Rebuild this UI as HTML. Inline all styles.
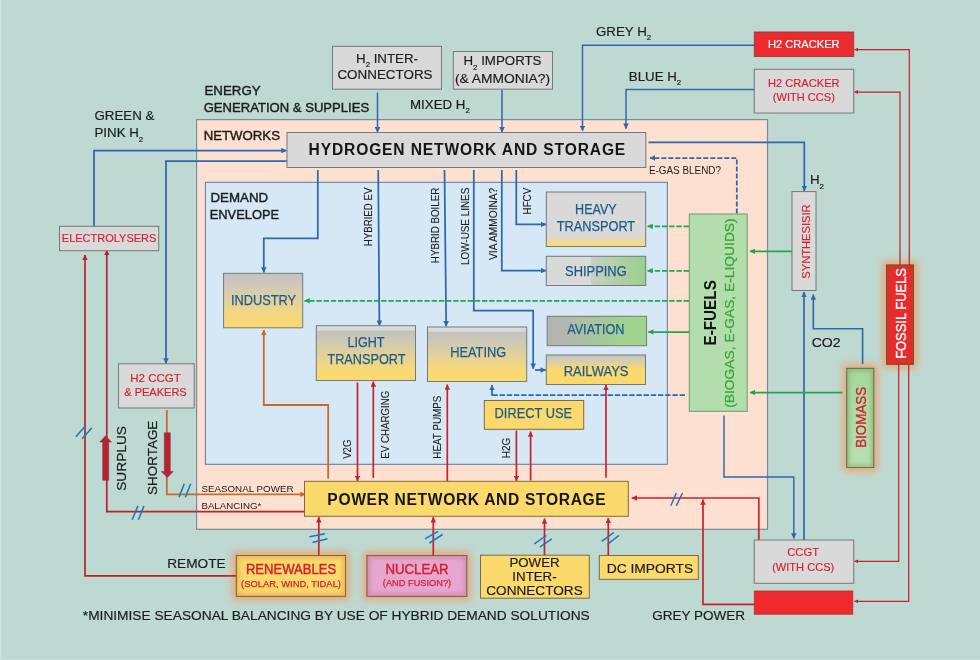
<!DOCTYPE html>
<html lang="en"><head><meta charset="utf-8"><title>Energy system diagram</title>
<style>html,body{margin:0;padding:0;background:#bed8d2;}body{width:980px;height:660px;overflow:hidden;}svg{display:block;opacity:0.999;-webkit-font-smoothing:antialiased;font-family:"Liberation Sans",Arial,Helvetica,sans-serif;}</style>
</head><body>
<svg width="980" height="660" viewBox="0 0 980 660">
<defs>
<marker id="aB" viewBox="0 0 6 6" refX="5.6" refY="3" markerWidth="6" markerHeight="5.6" markerUnits="userSpaceOnUse" orient="auto"><path d="M0,0 L6,3 L0,6 z" fill="#2d68ae"/></marker>
<marker id="aR" viewBox="0 0 6 6" refX="5.6" refY="3" markerWidth="6" markerHeight="5.6" markerUnits="userSpaceOnUse" orient="auto"><path d="M0,0 L6,3 L0,6 z" fill="#c8222b"/></marker>
<marker id="aD" viewBox="0 0 6 6" refX="5.6" refY="3" markerWidth="6" markerHeight="5.6" markerUnits="userSpaceOnUse" orient="auto"><path d="M0,0 L6,3 L0,6 z" fill="#bb222b"/></marker>
<marker id="aO" viewBox="0 0 6 6" refX="5.6" refY="3" markerWidth="6" markerHeight="5.6" markerUnits="userSpaceOnUse" orient="auto"><path d="M0,0 L6,3 L0,6 z" fill="#c96a2b"/></marker>
<marker id="aG" viewBox="0 0 6 6" refX="5.6" refY="3" markerWidth="6" markerHeight="5.6" markerUnits="userSpaceOnUse" orient="auto"><path d="M0,0 L6,3 L0,6 z" fill="#22a650"/></marker>
<marker id="aRs" viewBox="0 0 6 6" refX="5.6" refY="3" markerWidth="4.2" markerHeight="4" markerUnits="userSpaceOnUse" orient="auto"><path d="M0,0 L6,3 L0,6 z" fill="#c8222b"/></marker>
<filter id="glow" x="-50%" y="-50%" width="200%" height="200%"><feGaussianBlur stdDeviation="3.5"/></filter>
<linearGradient id="gInd" x1="0" y1="0" x2="0" y2="1"><stop offset="0" stop-color="#c4c2c0"/><stop offset="0.18" stop-color="#cdc8bc"/><stop offset="0.75" stop-color="#f3d783"/><stop offset="1" stop-color="#fbd96c"/></linearGradient>
<linearGradient id="gLT" x1="0" y1="0" x2="0" y2="1"><stop offset="0" stop-color="#dedede"/><stop offset="0.085" stop-color="#d6d6d4"/><stop offset="0.1" stop-color="#c3c2bf"/><stop offset="0.3" stop-color="#d0cab4"/><stop offset="0.8" stop-color="#f8d977"/><stop offset="1" stop-color="#fbd96c"/></linearGradient>
<linearGradient id="gHT" x1="0" y1="0" x2="0" y2="1"><stop offset="0" stop-color="#d9d9d9"/><stop offset="0.8" stop-color="#d9d9d9"/><stop offset="0.9" stop-color="#ecd9a0"/><stop offset="1" stop-color="#fbd96c"/></linearGradient>
<linearGradient id="gSh" x1="0" y1="0" x2="1" y2="0"><stop offset="0" stop-color="#d9d9d9"/><stop offset="0.45" stop-color="#d9d9d9"/><stop offset="0.45" stop-color="#c9cdc6"/><stop offset="1" stop-color="#9ad188"/></linearGradient>
<linearGradient id="gAv" x1="0" y1="0" x2="1" y2="0"><stop offset="0" stop-color="#b3b3b0"/><stop offset="0.15" stop-color="#b3b5b0"/><stop offset="0.8" stop-color="#a0d38f"/><stop offset="1" stop-color="#9ed48c"/></linearGradient>
<linearGradient id="gRw" x1="0" y1="0" x2="0" y2="1"><stop offset="0" stop-color="#c6c4bf"/><stop offset="0.12" stop-color="#cdc9bb"/><stop offset="0.5" stop-color="#fbd96c"/><stop offset="1" stop-color="#fbd96c"/></linearGradient>
<linearGradient id="gBio" x1="0" y1="0" x2="0" y2="1"><stop offset="0" stop-color="#a5d79c"/><stop offset="1" stop-color="#b9e0b3"/></linearGradient>
<filter id="glow2" x="-50%" y="-50%" width="200%" height="200%"><feGaussianBlur stdDeviation="2"/></filter>
<clipPath id="cg0"><rect x="886.5" y="265" width="27.0" height="99.3"/></clipPath>
<clipPath id="cg1"><rect x="846.8" y="368.3" width="27.0" height="99.2"/></clipPath>
<clipPath id="cg2"><rect x="236.3" y="555.5" width="109.2" height="40.8"/></clipPath>
<clipPath id="cg3"><rect x="367" y="555.5" width="99.8" height="40.8"/></clipPath>
</defs>
<rect x="0" y="0" width="980" height="660" fill="#bed8d2"/>
<rect x="0" y="0" width="1.2" height="660" fill="#d4e5e0"/>
<rect x="0" y="659" width="980" height="1" fill="#c7ddd8"/>
<rect x="196.6" y="119.6" width="570.9" height="409.7" fill="#fde0d0" stroke="#778c9c" stroke-width="1.2"/>
<rect x="205.4" y="182.3" width="461.9" height="282.0" fill="#d6e8f5" stroke="#587aa3" stroke-width="1"/>
<rect x="882.5" y="261" width="35.0" height="107.30000000000001" rx="4" fill="#e8a977" filter="url(#glow)"/>
<rect x="842.8" y="364.3" width="35.0" height="107.19999999999999" rx="4" fill="#e8a977" filter="url(#glow)"/>
<rect x="232.3" y="551.5" width="117.19999999999999" height="48.799999999999955" rx="4" fill="#e8a977" filter="url(#glow)"/>
<rect x="363" y="551.5" width="107.80000000000001" height="48.799999999999955" rx="4" fill="#e8a977" filter="url(#glow)"/>
<path d="M94,228 L94,150.5 L286.5,150.5" fill="none" stroke="#2d68ae" stroke-width="1.75" marker-end="url(#aB)"/>
<path d="M287,161 L166,161 L166,363.5" fill="none" stroke="#2d68ae" stroke-width="1.75" marker-end="url(#aB)"/>
<path d="M377.5,92.5 L377.5,132.3" fill="none" stroke="#2d68ae" stroke-width="1.5" marker-end="url(#aB)"/>
<path d="M502,90 L502,132.3" fill="none" stroke="#2d68ae" stroke-width="1.5" marker-end="url(#aB)"/>
<path d="M755,45.3 L582.5,45.3 L582.5,131" fill="none" stroke="#2d68ae" stroke-width="1.45" marker-end="url(#aB)"/>
<path d="M755,89.5 L626,89.5 L626,128.8" fill="none" stroke="#2d68ae" stroke-width="1.45" marker-end="url(#aB)"/>
<path d="M648.5,142.4 L804.3,142.4 L804.3,191" fill="none" stroke="#2d68ae" stroke-width="1.75" marker-end="url(#aB)"/>
<path d="M736.8,213.5 L736.8,158 L650,158" fill="none" stroke="#2d68ae" stroke-width="1.75" marker-end="url(#aB)" stroke-dasharray="5 2"/>
<path d="M317.8,170 L317.8,238.3 L263.8,238.3 L263.8,272.5" fill="none" stroke="#2d68ae" stroke-width="1.75" marker-end="url(#aB)"/>
<path d="M378.2,170 L379.4,325.8" fill="none" stroke="#2d68ae" stroke-width="1.75" marker-end="url(#aB)"/>
<path d="M444.5,170 L446.2,326.3" fill="none" stroke="#2d68ae" stroke-width="1.75" marker-end="url(#aB)"/>
<path d="M473.8,170 L473.8,310.6 L533.2,310.6 L533.2,368.8" fill="none" stroke="#2d68ae" stroke-width="1.75" marker-end="url(#aB)"/>
<path d="M535,370 L545.8,370" fill="none" stroke="#2d68ae" stroke-width="1.75" marker-end="url(#aB)"/>
<path d="M501.8,170 L501.8,270.6 L546,270.6" fill="none" stroke="#2d68ae" stroke-width="1.75" marker-end="url(#aB)"/>
<path d="M516.3,170 L516.3,224.4 L546,224.4" fill="none" stroke="#2d68ae" stroke-width="1.75" marker-end="url(#aB)"/>
<path d="M685,395 L492,395" fill="none" stroke="#2d68ae" stroke-width="1.75" stroke-dasharray="5.4 1.8"/>
<path d="M492,395.7 L492,385" fill="none" stroke="#2d68ae" stroke-width="1.75" marker-end="url(#aB)"/>
<path d="M724,415.5 L724,477 L793.8,477 L793.8,538.5" fill="none" stroke="#2d68ae" stroke-width="1.45" marker-end="url(#aB)"/>
<path d="M804,540 L804,292" fill="none" stroke="#2d68ae" stroke-width="1.7" marker-end="url(#aB)"/>
<path d="M862.6,364 L862.6,328.8 L813.3,328.8 L813.3,294.5" fill="none" stroke="#2d68ae" stroke-width="1.6" marker-end="url(#aB)"/>
<path d="M689,226.3 L647.5,226.3" fill="none" stroke="#22a650" stroke-width="1.7" marker-end="url(#aG)" stroke-dasharray="5.4 1.8"/>
<path d="M689,270.8 L647.5,270.8" fill="none" stroke="#22a650" stroke-width="1.7" marker-end="url(#aG)" stroke-dasharray="5.4 1.8"/>
<path d="M689,300.8 L304.5,300.8" fill="none" stroke="#22a650" stroke-width="1.8" marker-end="url(#aG)" stroke-dasharray="5.4 1.8"/>
<path d="M691,332 L648.2,332" fill="none" stroke="#22a650" stroke-width="1.75" marker-end="url(#aG)"/>
<path d="M792,251.3 L750,251.3" fill="none" stroke="#22a650" stroke-width="1.75" marker-end="url(#aG)"/>
<path d="M842.5,392.5 L750,392.5" fill="none" stroke="#22a650" stroke-width="1.75" marker-end="url(#aG)"/>
<path d="M328.2,478.8 L328.2,405 L263.8,405 L263.8,330" fill="none" stroke="#c96a2b" stroke-width="1.8" marker-end="url(#aO)"/>
<path d="M166.8,410 L166.8,494.3 L305.5,494.3" fill="none" stroke="#c96a2b" stroke-width="1.8" marker-end="url(#aO)"/>
<path d="M357.5,382.5 L357.5,481" fill="none" stroke="#c8222b" stroke-width="1.7" marker-end="url(#aR)"/>
<path d="M373.3,477.8 L373.3,381.5" fill="none" stroke="#c8222b" stroke-width="1.7" marker-end="url(#aR)"/>
<path d="M447.3,484 L447.3,384.5" fill="none" stroke="#c8222b" stroke-width="1.7" marker-end="url(#aR)"/>
<path d="M516.4,430.5 L516.4,481" fill="none" stroke="#c8222b" stroke-width="1.7" marker-end="url(#aR)"/>
<path d="M530.6,480.5 L530.6,431.5" fill="none" stroke="#c8222b" stroke-width="1.7" marker-end="url(#aR)"/>
<path d="M606,477.8 L606,385" fill="none" stroke="#c8222b" stroke-width="1.7" marker-end="url(#aR)"/>
<path d="M306,511.6 L106.8,511.6 L106.8,250" fill="none" stroke="#bb222b" stroke-width="1.7" marker-end="url(#aD)"/>
<path d="M236.5,575.8 L85,575.8 L85,255" fill="none" stroke="#bb222b" stroke-width="1.7" marker-end="url(#aD)"/>
<path d="M318.8,556 L318.8,517.2" fill="none" stroke="#c8222b" stroke-width="1.7" marker-end="url(#aR)"/>
<path d="M433.3,556 L433.3,517.2" fill="none" stroke="#c8222b" stroke-width="1.7" marker-end="url(#aR)"/>
<path d="M544.5,556 L544.5,518.5" fill="none" stroke="#c8222b" stroke-width="1.7" marker-end="url(#aR)"/>
<path d="M608.3,556 L608.3,518" fill="none" stroke="#c8222b" stroke-width="1.7" marker-end="url(#aR)"/>
<path d="M758.8,541 L758.8,498 L631.8,498" fill="none" stroke="#c8222b" stroke-width="1.7" marker-end="url(#aR)"/>
<path d="M755,604.3 L703,604.3 L703,499.5" fill="none" stroke="#c8222b" stroke-width="1.7" marker-end="url(#aR)"/>
<path d="M900,266 L900,92 L854.5,92" fill="none" stroke="#c8222b" stroke-width="1.25" marker-end="url(#aRs)"/>
<path d="M909.3,266 L909.3,49.6 L854.5,49.6" fill="none" stroke="#c8222b" stroke-width="1.25" marker-end="url(#aRs)"/>
<path d="M898.7,364 L898.7,561.3 L854.5,561.3" fill="none" stroke="#c8222b" stroke-width="1.25" marker-end="url(#aRs)"/>
<path d="M908.7,364 L908.7,601.3 L854.5,601.3" fill="none" stroke="#c8222b" stroke-width="1.25" marker-end="url(#aRs)"/>
<path d="M102.7,480.3 L102.7,442 L99.8,442 L105.6,435.8 L111.4,442 L108.7,442 L108.7,480.3 z" fill="#bb222b" stroke="#5a3560" stroke-width="0.5"/>
<path d="M164.3,432.8 L170.3,432.8 L170.3,471.5 L173.3,471.5 L167.3,477.6 L161.3,471.5 L164.3,471.5 z" fill="#bb222b" stroke="#5a3560" stroke-width="0.5"/>
<path d="M179,497.3 L184.3,483.8 M185.3,497.3 L190.7,483.8" stroke="#1878bc" stroke-width="1.5" fill="none"/>
<path d="M132.2,519.8 L137.9,505.9 M138.4,519.8 L144,505.9" stroke="#1878bc" stroke-width="1.5" fill="none"/>
<path d="M75.8,436.8 L85.8,425.5 M82,438.8 L91.8,428" stroke="#1878bc" stroke-width="1.5" fill="none"/>
<path d="M309.5,536.8 L325,533.8 M312.5,542.5 L327.5,538.8" stroke="#1878bc" stroke-width="1.5" fill="none"/>
<path d="M425,538.8 L438,531.3 M429.5,543 L442.5,534.5" stroke="#1878bc" stroke-width="1.5" fill="none"/>
<path d="M534.3,543.8 L546.3,535.5 M540,547 L551.8,538.8" stroke="#1878bc" stroke-width="1.5" fill="none"/>
<path d="M601.8,541.3 L613.8,532.5 M607.5,544.3 L618.8,535.5" stroke="#1878bc" stroke-width="1.5" fill="none"/>
<path d="M670.8,505.8 L676.3,493 M676.3,505.8 L682.5,493" stroke="#1878bc" stroke-width="1.5" fill="none"/>
<rect x="287" y="132.5" width="358.8" height="35.0" fill="#d9d9d9" stroke="#737a78" stroke-width="1"/>
<rect x="304.5" y="481.3" width="323.8" height="35.0" fill="#fbd96c" stroke="#7a6c45" stroke-width="1"/>
<rect x="332.5" y="46.3" width="109.0" height="42.9" fill="#d9d9d9" stroke="#737a78" stroke-width="1"/>
<rect x="453.3" y="51.5" width="99.2" height="37.7" fill="#d9d9d9" stroke="#737a78" stroke-width="1"/>
<rect x="59.5" y="226.3" width="99.2" height="24.4" fill="#d9d9d9" stroke="#737a78" stroke-width="1"/>
<rect x="118.5" y="363.8" width="75.7" height="44.2" fill="#d9d9d9" stroke="#737a78" stroke-width="1"/>
<rect x="754.3" y="32" width="99.4" height="24.4" fill="#ed2a2e" stroke="#8a3a3a" stroke-width="0.9"/>
<rect x="754.3" y="69.3" width="99.4" height="43.7" fill="#d9d9d9" stroke="#737a78" stroke-width="1"/>
<rect x="792" y="191.6" width="24" height="98.9" fill="#d9d9d9" stroke="#737a78" stroke-width="1"/>
<rect x="754.3" y="540" width="99.4" height="43.3" fill="#d9d9d9" stroke="#737a78" stroke-width="1"/>
<rect x="754.3" y="591" width="98.5" height="23.2" fill="#ed2a2e" stroke="#b8282c" stroke-width="0.8"/>
<rect x="886.5" y="265" width="27.0" height="99.3" fill="#ec2a2e" stroke="#8a3a3a" stroke-width="1"/>
<rect x="846.8" y="368.3" width="27.0" height="99.2" fill="url(#gBio)" stroke="#6f7f6a" stroke-width="1"/>
<rect x="689.3" y="214" width="57.9" height="197.3" fill="#b4ddad" stroke="#6f9a6f" stroke-width="1"/>
<rect x="223.6" y="273.3" width="79.1" height="54.5" fill="url(#gInd)" stroke="#737a78" stroke-width="1"/>
<rect x="316.3" y="325.7" width="99.2" height="54.8" fill="url(#gLT)" stroke="#737a78" stroke-width="1"/>
<rect x="427.5" y="327" width="99.2" height="54.5" fill="url(#gLT)" stroke="#737a78" stroke-width="1"/>
<rect x="546.3" y="192" width="99.4" height="54.5" fill="url(#gHT)" stroke="#737a78" stroke-width="1"/>
<rect x="546.3" y="256.3" width="99.4" height="29.2" fill="url(#gSh)" stroke="#737a78" stroke-width="1"/>
<rect x="547.2" y="316.3" width="99.4" height="29.4" fill="url(#gAv)" stroke="#737a78" stroke-width="1"/>
<rect x="546.3" y="355" width="99.2" height="29.5" fill="url(#gRw)" stroke="#737a78" stroke-width="1"/>
<rect x="484.3" y="400.5" width="99.4" height="28.8" fill="#fbd96c" stroke="#7a6c45" stroke-width="1"/>
<rect x="236.3" y="555.5" width="109.2" height="40.8" fill="#fbd96c" stroke="#7a6c45" stroke-width="1"/>
<rect x="367" y="555.5" width="99.8" height="40.8" fill="#e6a6cf" stroke="#7a6c6c" stroke-width="1"/>
<rect x="480.5" y="555.2" width="108.8" height="43.0" fill="#fbd96c" stroke="#7a6c45" stroke-width="1"/>
<rect x="599.3" y="555.5" width="99.0" height="23.8" fill="#fbd96c" stroke="#7a6c45" stroke-width="1"/>
<g clip-path="url(#cg0)"><rect x="886.5" y="265" width="27.0" height="99.3" fill="none" stroke="#b8401f" stroke-width="5" filter="url(#glow2)" opacity="0.75"/></g>
<rect x="886.5" y="265" width="27.0" height="99.3" fill="none" stroke="#6a6040" stroke-width="0.6"/>
<g clip-path="url(#cg1)"><rect x="846.8" y="368.3" width="27.0" height="99.2" fill="none" stroke="#7fae6a" stroke-width="5" filter="url(#glow2)" opacity="0.75"/></g>
<rect x="846.8" y="368.3" width="27.0" height="99.2" fill="none" stroke="#6a6040" stroke-width="0.6"/>
<g clip-path="url(#cg2)"><rect x="236.3" y="555.5" width="109.2" height="40.8" fill="none" stroke="#e0a850" stroke-width="5" filter="url(#glow2)" opacity="0.75"/></g>
<rect x="236.3" y="555.5" width="109.2" height="40.8" fill="none" stroke="#6a6040" stroke-width="0.6"/>
<g clip-path="url(#cg3)"><rect x="367" y="555.5" width="99.8" height="40.8" fill="none" stroke="#c8809a" stroke-width="5" filter="url(#glow2)" opacity="0.75"/></g>
<rect x="367" y="555.5" width="99.8" height="40.8" fill="none" stroke="#6a6040" stroke-width="0.6"/>
<text x="204.5" y="95" font-size="13.3" fill="#1c1c1c" stroke="#1c1c1c" stroke-width="0.42">ENERGY</text>
<text x="203.7" y="112" font-size="13.3" fill="#1c1c1c" textLength="165.46" lengthAdjust="spacingAndGlyphs" stroke="#1c1c1c" stroke-width="0.42">GENERATION &amp; SUPPLIES</text>
<text x="203.7" y="140" font-size="13.3" fill="#1c1c1c" textLength="76.26" lengthAdjust="spacingAndGlyphs" stroke="#1c1c1c" stroke-width="0.42">NETWORKS</text>
<text x="210.5" y="202" font-size="13.3" fill="#1c1c1c" stroke="#1c1c1c" stroke-width="0.42">DEMAND</text>
<text x="209.7" y="218.8" font-size="13.3" fill="#1c1c1c" textLength="69.46" lengthAdjust="spacingAndGlyphs" stroke="#1c1c1c" stroke-width="0.42">ENVELOPE</text>
<text x="94.5" y="120" font-size="13.3" fill="#1c1c1c" stroke="#1c1c1c" stroke-width="0.18">GREEN &amp;</text>
<text x="94.5" y="136.9" font-size="13.3" fill="#1c1c1c" stroke="#1c1c1c" stroke-width="0.18">PINK H<tspan font-size="7.8" dy="4.6">2</tspan></text>
<text x="387" y="62.5" font-size="13.3" fill="#1c1c1c" text-anchor="middle" stroke="#1c1c1c" stroke-width="0.18">H<tspan font-size="7.8" dy="4.6">2</tspan><tspan dy="-4.6"> INTER-</tspan></text>
<text x="385" y="79.3" font-size="13.3" fill="#1c1c1c" text-anchor="middle" textLength="95.17" lengthAdjust="spacingAndGlyphs" stroke="#1c1c1c" stroke-width="0.18">CONNECTORS</text>
<text x="502.5" y="65" font-size="13.3" fill="#1c1c1c" text-anchor="middle" stroke="#1c1c1c" stroke-width="0.18">H<tspan font-size="7.8" dy="4.6">2</tspan><tspan dy="-4.6"> IMPORTS</tspan></text>
<text x="502.5" y="82.5" font-size="13.3" fill="#1c1c1c" text-anchor="middle" textLength="95.17" lengthAdjust="spacingAndGlyphs" stroke="#1c1c1c" stroke-width="0.18">(&amp; AMMONIA?)</text>
<text x="410" y="108.8" font-size="13.3" fill="#1c1c1c" stroke="#1c1c1c" stroke-width="0.18">MIXED H<tspan font-size="7.8" dy="4.6">2</tspan></text>
<text x="596" y="35.6" font-size="13.3" fill="#1c1c1c" stroke="#1c1c1c" stroke-width="0.18">GREY H<tspan font-size="7.8" dy="4.6">2</tspan></text>
<text x="628.8" y="80.5" font-size="13.3" fill="#1c1c1c" stroke="#1c1c1c" stroke-width="0.18">BLUE H<tspan font-size="7.8" dy="4.6">2</tspan></text>
<text x="308.56" y="155" font-size="15.6" fill="#151515" textLength="316.72" lengthAdjust="spacing" font-weight="bold">HYDROGEN NETWORK AND STORAGE</text>
<text x="327.36" y="505" font-size="15.6" fill="#151515" textLength="278.42" lengthAdjust="spacing" font-weight="bold">POWER NETWORK AND STORAGE</text>
<text x="648.9" y="173.8" font-size="10" fill="#1c1c1c" textLength="72.1" lengthAdjust="spacingAndGlyphs">E-GAS BLEND?</text>
<text x="810" y="184.4" font-size="13.3" fill="#1c1c1c" stroke="#1c1c1c" stroke-width="0.18">H<tspan font-size="7.8" dy="4.6">2</tspan></text>
<text x="811.7" y="347" font-size="13.3" fill="#1c1c1c" textLength="28.96" lengthAdjust="spacingAndGlyphs" stroke="#1c1c1c" stroke-width="0.18">CO2</text>
<text x="201.41" y="491.5" font-size="9.8" fill="#1c1c1c" textLength="92.08" lengthAdjust="spacingAndGlyphs">SEASONAL POWER</text>
<text x="201.41" y="508.9" font-size="9.8" fill="#1c1c1c" textLength="59.88" lengthAdjust="spacingAndGlyphs">BALANCING*</text>
<text x="167.2" y="568.3" font-size="13.3" fill="#1c1c1c" textLength="58.46" lengthAdjust="spacingAndGlyphs" stroke="#1c1c1c" stroke-width="0.18">REMOTE</text>
<text x="82.8" y="619.6" font-size="13.3" fill="#1c1c1c" textLength="506.96" lengthAdjust="spacingAndGlyphs" stroke="#1c1c1c" stroke-width="0.18">*MINIMISE SEASONAL BALANCING BY USE OF HYBRID DEMAND SOLUTIONS</text>
<text x="652.2" y="619.7" font-size="13.3" fill="#1c1c1c" textLength="92.96" lengthAdjust="spacingAndGlyphs" stroke="#1c1c1c" stroke-width="0.18">GREY POWER</text>
<text x="534.5" y="567" font-size="13.3" fill="#1c1c1c" text-anchor="middle" stroke="#1c1c1c" stroke-width="0.18">POWER</text>
<text x="534.5" y="581.2" font-size="13.3" fill="#1c1c1c" text-anchor="middle" stroke="#1c1c1c" stroke-width="0.18">INTER-</text>
<text x="534.5" y="595.1" font-size="13.3" fill="#1c1c1c" text-anchor="middle" textLength="96.47" lengthAdjust="spacingAndGlyphs" stroke="#1c1c1c" stroke-width="0.18">CONNECTORS</text>
<text x="606.7" y="572.7" font-size="13.3" fill="#1c1c1c" textLength="86.46" lengthAdjust="spacingAndGlyphs" stroke="#1c1c1c" stroke-width="0.18">DC IMPORTS</text>
<text x="61.81" y="242" font-size="11.5" fill="#d4202f" textLength="94.56" lengthAdjust="spacingAndGlyphs" stroke="#d4202f" stroke-width="0.15">ELECTROLYSERS</text>
<text x="155.5" y="382" font-size="11.5" fill="#d4202f" text-anchor="middle" stroke="#d4202f" stroke-width="0.15">H2 CCGT</text>
<text x="155.5" y="396.3" font-size="11.5" fill="#d4202f" text-anchor="middle" textLength="62.38" lengthAdjust="spacingAndGlyphs" stroke="#d4202f" stroke-width="0.15">&amp; PEAKERS</text>
<text x="803.8" y="47.6" font-size="11.5" fill="#ffffff" text-anchor="middle" textLength="71.58" lengthAdjust="spacingAndGlyphs" stroke="#ffffff" stroke-width="0.2">H2 CRACKER</text>
<text x="803.8" y="87" font-size="11.5" fill="#d4202f" text-anchor="middle" textLength="71.58" lengthAdjust="spacingAndGlyphs" stroke="#d4202f" stroke-width="0.15">H2 CRACKER</text>
<text x="803.8" y="101.3" font-size="11.5" fill="#d4202f" text-anchor="middle" textLength="62.08" lengthAdjust="spacingAndGlyphs" stroke="#d4202f" stroke-width="0.15">(WITH CCS)</text>
<text x="803.2" y="556.3" font-size="11.5" fill="#d4202f" text-anchor="middle" textLength="31.88" lengthAdjust="spacingAndGlyphs" stroke="#d4202f" stroke-width="0.15">CCGT</text>
<text x="803.2" y="570.5" font-size="11.5" fill="#d4202f" text-anchor="middle" textLength="62.08" lengthAdjust="spacingAndGlyphs" stroke="#d4202f" stroke-width="0.15">(WITH CCS)</text>
<text x="291" y="574.2" font-size="14" fill="#d4202f" text-anchor="middle" textLength="90.2" lengthAdjust="spacingAndGlyphs" stroke="#d4202f" stroke-width="0.45">RENEWABLES</text>
<text x="291" y="586.8" font-size="9.8" fill="#d4202f" text-anchor="middle" textLength="99.99" lengthAdjust="spacingAndGlyphs" stroke="#d4202f" stroke-width="0.25">(SOLAR, WIND, TIDAL)</text>
<text x="417" y="574.2" font-size="14" fill="#d4202f" text-anchor="middle" textLength="63.2" lengthAdjust="spacingAndGlyphs" stroke="#d4202f" stroke-width="0.45">NUCLEAR</text>
<text x="417" y="586.3" font-size="9.8" fill="#d4202f" text-anchor="middle" textLength="68.29" lengthAdjust="spacingAndGlyphs" stroke="#d4202f" stroke-width="0.25">(AND FUSION?)</text>
<text x="810" y="278.69" font-size="11.5" fill="#d4202f" textLength="74.27" lengthAdjust="spacingAndGlyphs" transform="rotate(-90 810 278.69)" stroke="#d4202f" stroke-width="0.15">SYNTHESISIR</text>
<text x="905.7" y="358.84" font-size="14" fill="#ffffff" textLength="90.84" lengthAdjust="spacingAndGlyphs" transform="rotate(-90 905.7 358.84)" stroke="#fff" stroke-width="0.35">FOSSIL FUELS</text>
<text x="865.8" y="447.84" font-size="14" fill="#d4202f" textLength="61.04" lengthAdjust="spacingAndGlyphs" transform="rotate(-90 865.8 447.84)" stroke="#d4202f" stroke-width="0.3">BIOMASS</text>
<text x="263.5" y="305" font-size="14" fill="#1d5b8b" text-anchor="middle" textLength="65.2" lengthAdjust="spacingAndGlyphs" stroke="#1d5b8b" stroke-width="0.25">INDUSTRY</text>
<text x="366" y="347.3" font-size="14" fill="#1d5b8b" text-anchor="middle" textLength="37.2" lengthAdjust="spacingAndGlyphs" stroke="#1d5b8b" stroke-width="0.25">LIGHT</text>
<text x="366.5" y="364" font-size="14" fill="#1d5b8b" text-anchor="middle" textLength="78.1" lengthAdjust="spacingAndGlyphs" stroke="#1d5b8b" stroke-width="0.25">TRANSPORT</text>
<text x="478.2" y="356.6" font-size="14" fill="#1d5b8b" text-anchor="middle" textLength="55.8" lengthAdjust="spacingAndGlyphs" stroke="#1d5b8b" stroke-width="0.25">HEATING</text>
<text x="595.9" y="213.9" font-size="14" fill="#1d5b8b" text-anchor="middle" textLength="41.6" lengthAdjust="spacingAndGlyphs" stroke="#1d5b8b" stroke-width="0.25">HEAVY</text>
<text x="596" y="230.5" font-size="14" fill="#1d5b8b" text-anchor="middle" textLength="78.3" lengthAdjust="spacingAndGlyphs" stroke="#1d5b8b" stroke-width="0.25">TRANSPORT</text>
<text x="595.9" y="275.8" font-size="14" fill="#1d5b8b" text-anchor="middle" textLength="61.6" lengthAdjust="spacingAndGlyphs" stroke="#1d5b8b" stroke-width="0.25">SHIPPING</text>
<text x="595.8" y="333.8" font-size="14" fill="#1d5b8b" text-anchor="middle" textLength="57.3" lengthAdjust="spacingAndGlyphs" stroke="#1d5b8b" stroke-width="0.25">AVIATION</text>
<text x="596.1" y="375.5" font-size="14" fill="#1d5b8b" text-anchor="middle" textLength="64.9" lengthAdjust="spacingAndGlyphs" stroke="#1d5b8b" stroke-width="0.25">RAILWAYS</text>
<text x="533.3" y="418" font-size="14" fill="#1d5b8b" text-anchor="middle" textLength="77.5" lengthAdjust="spacingAndGlyphs" stroke="#1d5b8b" stroke-width="0.25">DIRECT USE</text>
<text x="371.8" y="246.14" font-size="10.6" fill="#1c1c1c" textLength="58.47" lengthAdjust="spacingAndGlyphs" transform="rotate(-90 371.8 246.14)" stroke="#1c1c1c" stroke-width="0.1">HYBRIED EV</text>
<text x="439.3" y="263.14" font-size="10.6" fill="#1c1c1c" textLength="75.47" lengthAdjust="spacingAndGlyphs" transform="rotate(-90 439.3 263.14)" stroke="#1c1c1c" stroke-width="0.1">HYBRID BOILER</text>
<text x="469.3" y="264.94" font-size="10.6" fill="#1c1c1c" textLength="77.17" lengthAdjust="spacingAndGlyphs" transform="rotate(-90 469.3 264.94)" stroke="#1c1c1c" stroke-width="0.1">LOW-USE LINES</text>
<text x="496.8" y="259.94" font-size="10.6" fill="#1c1c1c" textLength="72.17" lengthAdjust="spacingAndGlyphs" transform="rotate(-90 496.8 259.94)" stroke="#1c1c1c" stroke-width="0.1">VIA AMMOINA?</text>
<text x="531.3" y="214.44" font-size="10.6" fill="#1c1c1c" textLength="26.67" lengthAdjust="spacingAndGlyphs" transform="rotate(-90 531.3 214.44)" stroke="#1c1c1c" stroke-width="0.1">HFCV</text>
<text x="351.1" y="458.84" font-size="10.6" fill="#1c1c1c" textLength="19.37" lengthAdjust="spacingAndGlyphs" transform="rotate(-90 351.1 458.84)" stroke="#1c1c1c" stroke-width="0.1">V2G</text>
<text x="388.8" y="458.64" font-size="10.6" fill="#1c1c1c" textLength="67.97" lengthAdjust="spacingAndGlyphs" transform="rotate(-90 388.8 458.64)" stroke="#1c1c1c" stroke-width="0.1">EV CHARGING</text>
<text x="441.3" y="458.64" font-size="10.6" fill="#1c1c1c" textLength="62.97" lengthAdjust="spacingAndGlyphs" transform="rotate(-90 441.3 458.64)" stroke="#1c1c1c" stroke-width="0.1">HEAT PUMPS</text>
<text x="510" y="458.24" font-size="10.6" fill="#1c1c1c" textLength="20.47" lengthAdjust="spacingAndGlyphs" transform="rotate(-90 510 458.24)" stroke="#1c1c1c" stroke-width="0.1">H2G</text>
<text x="126.3" y="490.8" font-size="13.3" fill="#1c1c1c" textLength="64.76" lengthAdjust="spacingAndGlyphs" transform="rotate(-90 126.3 490.8)" stroke="#1c1c1c" stroke-width="0.18">SURPLUS</text>
<text x="157" y="495.0" font-size="13.3" fill="#1c1c1c" textLength="74.36" lengthAdjust="spacingAndGlyphs" transform="rotate(-90 157 495.0)" stroke="#1c1c1c" stroke-width="0.18">SHORTAGE</text>
<text x="715.8" y="345.49" font-size="16.5" fill="#111" textLength="65.31" lengthAdjust="spacingAndGlyphs" font-weight="bold" transform="rotate(-90 715.8 345.49)">E-FUELS</text>
<text x="733.8" y="407.8" font-size="13.3" fill="#3aa63a" textLength="189.46" lengthAdjust="spacingAndGlyphs" transform="rotate(-90 733.8 407.8)" stroke="#3aa63a" stroke-width="0.3">(BIOGAS, E-GAS, E-LIQUIDS)</text>
</svg></body></html>
